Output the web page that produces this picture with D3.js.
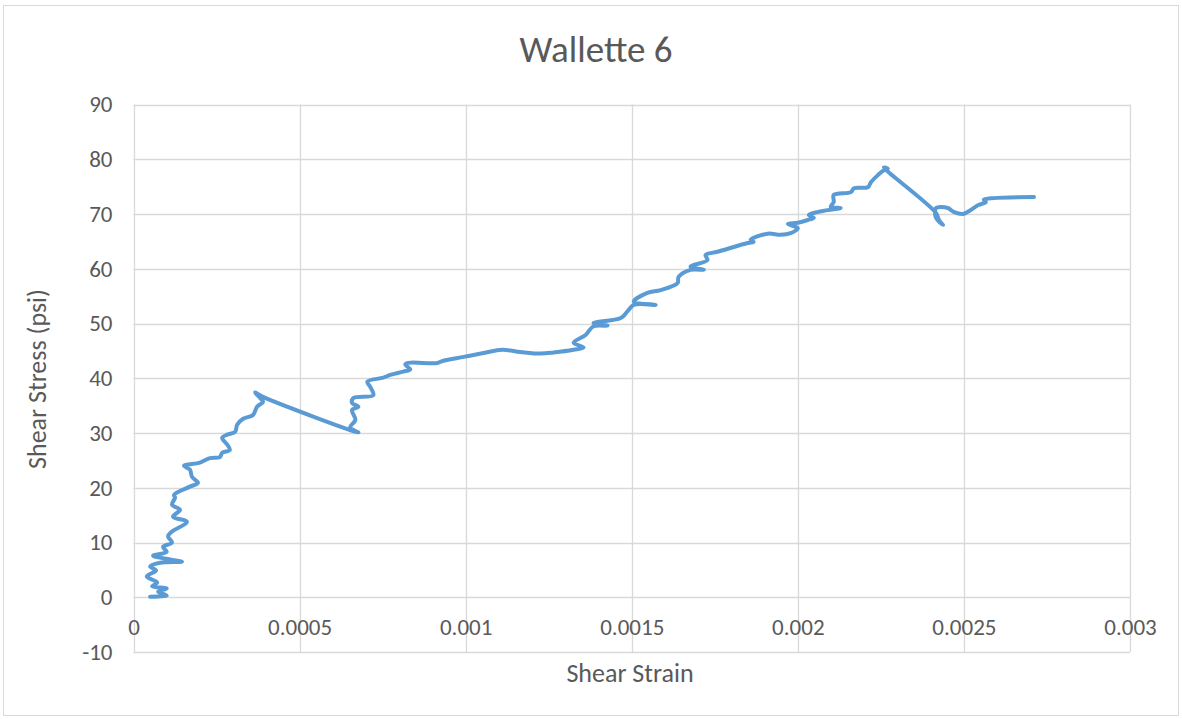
<!DOCTYPE html>
<html>
<head>
<meta charset="utf-8">
<script src="https://cdn.jsdelivr.net/npm/d3@7"></script>
<style>
  html, body { margin: 0; padding: 0; background: #fff; }
  text { font-family: Carlito, Calibri, Lato, "Open Sans", sans-serif; fill: #595959; }
</style>
</head>
<body>
<div id="chart"></div>
<script>
// ── data ──────────────────────────────────────────────────────────────────────
const strain = [
  0.000050, 0.000100, 0.000074, 0.000100, 0.000056, 0.000071, 0.000040, 0.000068,
  0.000050, 0.000080, 0.000146, 0.000110, 0.000059, 0.000100, 0.000089, 0.000116,
  0.000104, 0.000116, 0.000161, 0.000119, 0.000140, 0.000116, 0.000125, 0.000122,
  0.000170, 0.000194, 0.000176, 0.000170, 0.000152, 0.000200, 0.000230, 0.000260,
  0.000267, 0.000290, 0.000282, 0.000267, 0.000282, 0.000306, 0.000312, 0.000330,
  0.000360, 0.000372, 0.000390, 0.000381, 0.000366, 0.000390,
  0.000677, 0.000652, 0.000668, 0.000658, 0.000677, 0.000658, 0.000662, 0.000722,
  0.000713, 0.000704, 0.000752, 0.000773, 0.000812, 0.000833, 0.000818, 0.000827,
  0.000915, 0.000933, 0.000994, 0.001054, 0.001110, 0.001165, 0.001226, 0.001265,
  0.001325, 0.001355, 0.001325, 0.001361, 0.001385, 0.001427, 0.001385, 0.001467,
  0.001487, 0.001506, 0.001572, 0.001506, 0.001547, 0.001587, 0.001638, 0.001641,
  0.001677, 0.001717, 0.001677, 0.001728, 0.001722, 0.001758, 0.001849, 0.001867,
  0.001858, 0.001909, 0.001948, 0.001978, 0.002000, 0.001970, 0.002000, 0.002030,
  0.002048, 0.002033, 0.002090, 0.002129, 0.002099, 0.002108, 0.002108, 0.002160,
  0.002169, 0.002211, 0.002220, 0.002241, 0.002259, 0.002271, 0.002259,
  0.002416, 0.002425, 0.002437, 0.002416, 0.002416, 0.002451, 0.002469, 0.002497,
  0.002512, 0.002542, 0.002566, 0.002560, 0.002590, 0.002711
];
const stress = [
  0.1, 0.3, 1.0, 1.6, 2.0, 2.7, 3.8, 4.9,
  5.6, 6.3, 6.5, 6.9, 7.6, 8.3, 9.2, 10.0,
  11.1, 12.0, 13.8, 14.7, 16.0, 16.9, 18.2, 18.7,
  20.2, 20.9, 22.0, 23.3, 24.0, 24.6, 25.4, 25.6,
  26.4, 26.9, 27.9, 29.1, 29.7, 30.2, 31.5, 32.6,
  33.3, 34.8, 35.7, 36.4, 37.4, 36.6,
  30.1, 31.0, 32.4, 34.2, 34.8, 35.5, 36.4, 36.9,
  38.4, 39.4, 40.1, 40.6, 41.2, 41.6, 42.5, 42.8,
  42.8, 43.2, 43.9, 44.6, 45.2, 44.8, 44.5, 44.7,
  45.2, 45.6, 46.5, 47.9, 49.5, 49.6, 50.1, 51.0,
  52.2, 53.4, 53.4, 54.0, 55.6, 56.1, 57.4, 58.5,
  59.8, 59.8, 60.4, 61.6, 62.5, 63.1, 64.7, 64.9,
  65.3, 66.4, 66.2, 66.5, 67.4, 68.2, 68.4, 68.9,
  69.3, 69.8, 70.7, 71.1, 71.3, 72.2, 73.5, 74.0,
  74.7, 74.9, 75.8, 77.1, 78.0, 78.3, 78.5,
  70.2, 68.9, 68.0, 69.3, 71.1, 71.1, 70.4, 70.0,
  70.4, 71.6, 72.2, 72.6, 72.9, 73.1
];
const xTicks = [0, 0.0005, 0.001, 0.0015, 0.002, 0.0025, 0.003];
const xTickLabels = ['0', '0.0005', '0.001', '0.0015', '0.002', '0.0025', '0.003'];
const yTicks = [-10, 0, 10, 20, 30, 40, 50, 60, 70, 80, 90];

const chartTitle = 'Wallette 6';
const xTitle = 'Shear Strain';
const yTitle = 'Shear Stress (psi)';

// ── layout ───────────────────────────────────────────────────────────────────
const W = 1182, H = 719;
const plot = { left: 133.5, right: 1130, top: 104.5, bottom: 652 };

const xScale = d3.scaleLinear().domain([0, 0.003]).range([plot.left, plot.right]);
const yScale = d3.scaleLinear().domain([-10, 90]).range([plot.bottom, plot.top]);

const svg = d3.select('#chart').append('svg')
  .attr('width', W).attr('height', H);

// chart border
svg.append('rect')
  .attr('x', 3.5).attr('y', 5.5)
  .attr('width', 1175).attr('height', 710)
  .attr('fill', '#fff').attr('stroke', '#d9d9d9');

// ── gridlines ────────────────────────────────────────────────────────────────
svg.append('g')
  .selectAll('line.hgrid')
  .data(yTicks)
  .join('line')
    .attr('x1', plot.left).attr('x2', plot.right)
    .attr('y1', d => Math.round(yScale(d)) + 0.5)
    .attr('y2', d => Math.round(yScale(d)) + 0.5)
    .attr('stroke', '#d9d9d9').attr('stroke-width', 1.3);

svg.append('g')
  .selectAll('line.vgrid')
  .data(xTicks)
  .join('line')
    .attr('x1', d => Math.round(xScale(d)) + 0.5)
    .attr('x2', d => Math.round(xScale(d)) + 0.5)
    .attr('y1', plot.top).attr('y2', plot.bottom)
    .attr('stroke', '#d9d9d9').attr('stroke-width', 1.3);

// ── axes (labels only, Excel style) ──────────────────────────────────────────
svg.append('g')
  .attr('transform', `translate(0,${yScale(0)})`)
  .call(d3.axisBottom(xScale).tickValues(xTicks)
    .tickFormat((d, i) => xTickLabels[i]).tickSize(0).tickPadding(21))
  .call(g => g.select('.domain').remove())
  .call(g => g.selectAll('text').attr('font-size', 23).style('fill', '#595959'));

svg.append('g')
  .attr('transform', `translate(${plot.left},0)`)
  .call(d3.axisLeft(yScale).tickValues(yTicks)
    .tickFormat(d => String(d)).tickSize(0).tickPadding(21))
  .call(g => g.select('.domain').remove())
  .call(g => g.selectAll('text').attr('font-size', 23).style('fill', '#595959'));

// ── titles ───────────────────────────────────────────────────────────────────
svg.append('text')
  .attr('x', 596).attr('y', 62)
  .attr('text-anchor', 'middle')
  .attr('font-size', 37)
  .text(chartTitle);

svg.append('text')
  .attr('x', 630).attr('y', 682)
  .attr('text-anchor', 'middle')
  .attr('font-size', 26)
  .text(xTitle);

svg.append('text')
  .attr('transform', 'rotate(-90)')
  .attr('x', -379).attr('y', 46)
  .attr('text-anchor', 'middle')
  .attr('font-size', 26)
  .text(yTitle);

// ── series line ──────────────────────────────────────────────────────────────
const pts = strain.map((s, i) => [s, stress[i]]);
const line = d3.line()
  .x(d => xScale(d[0]))
  .y(d => yScale(d[1]))
  .curve(d3.curveCatmullRom.alpha(0.5));

svg.append('path')
  .datum(pts)
  .attr('d', line)
  .attr('fill', 'none')
  .attr('stroke', '#5B9BD5')
  .attr('stroke-width', 4)
  .attr('stroke-linejoin', 'round')
  .attr('stroke-linecap', 'round');
</script>
</body>
</html>
